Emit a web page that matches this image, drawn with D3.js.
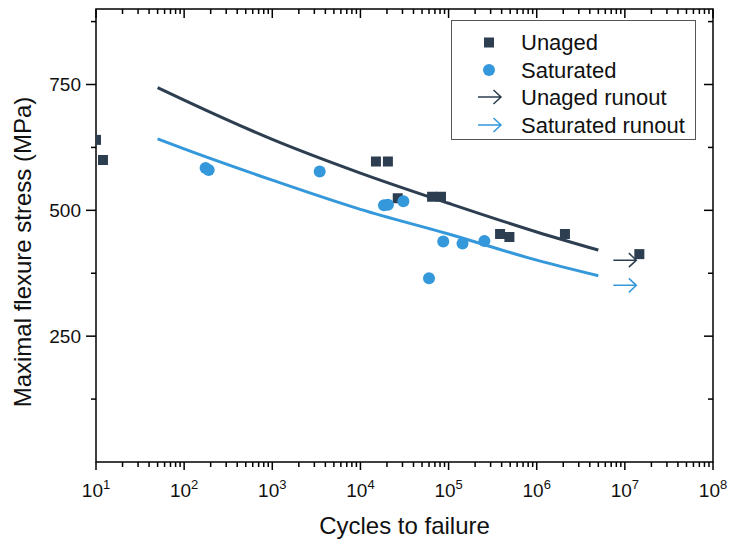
<!DOCTYPE html>
<html>
<head>
<meta charset="utf-8">
<script src="https://cdn.jsdelivr.net/npm/d3@7"></script>
<style>
  body { margin: 0; background: #fff; }
  text { font-family: "Liberation Sans", Arial, sans-serif; fill: #111; }
</style>
</head>
<body>
<script>
// data
let unagedN = [10, 12, 15000, 20500, 26500, 65000, 82000, 384000, 490000, 2090000, 14600000];
let unagedS = [640, 600, 597, 597, 524, 527, 527, 453, 447, 453, 413];

let saturatedN = [175, 190, 3450, 18500, 20500, 30700, 60000, 87000, 144000, 255000];
let saturatedS = [584, 580, 577, 510, 511, 518, 365, 438, 434, 439];

// fitted curves
let fitN = [50, 100, 1000, 10000, 100000, 1000000, 5000000];
let unagedFit = [744, 719, 641, 574, 514, 457, 421];
let saturatedFit = [642, 622, 560, 502, 453, 401, 370];

// runout points
let runoutN = [10000000, 10000000];
let runoutS = [401, 351];

let xTickExp = [1, 2, 3, 4, 5, 6, 7, 8];
let yMajor = [250, 500, 750];
let yMinor = [125, 375, 625, 875];

let dark = "#2c3e50";
let blue = "#3498db";

let width = 729, height = 546;
let margin = {top: 9, right: 16, bottom: 84, left: 96};

let x = d3.scaleLog()
          .domain([10, 1e8])
          .range([margin.left, width - margin.right]);
let y = d3.scaleLinear()
          .domain([0, 900])
          .range([height - margin.bottom, margin.top]);

let svg = d3.select("body")
            .append("svg")
            .attr("width", width)
            .attr("height", height);

svg.append("clipPath").attr("id", "clip")
   .append("rect")
   .attr("x", x.range()[0]).attr("y", y.range()[1])
   .attr("width", x.range()[1] - x.range()[0])
   .attr("height", y.range()[0] - y.range()[1]);

// minor x ticks: 2..9 per decade
let xMinor = [];
for (let e = 1; e < 8; e++) {
  for (let k = 2; k <= 9; k++) xMinor.push(k * Math.pow(10, e));
}
let xMajor = xTickExp.map(e => Math.pow(10, e));

let x0 = x.range()[0], x1 = x.range()[1], y0 = y.range()[0], y1 = y.range()[1];
let ticks = svg.append("g").attr("stroke", "#000").attr("stroke-width", 1.5);

// bottom (outward) and top (inward)
xMajor.forEach(function(v) {
  ticks.append("line").attr("x1", x(v)).attr("x2", x(v)).attr("y1", y0).attr("y2", y0 + 8);
  ticks.append("line").attr("x1", x(v)).attr("x2", x(v)).attr("y1", y1).attr("y2", y1 + 9);
});
xMinor.forEach(function(v) {
  ticks.append("line").attr("x1", x(v)).attr("x2", x(v)).attr("y1", y0).attr("y2", y0 + 5);
  ticks.append("line").attr("x1", x(v)).attr("x2", x(v)).attr("y1", y1).attr("y2", y1 + 5);
});
// left (outward) and right (inward)
yMajor.forEach(function(v) {
  ticks.append("line").attr("x1", x0 - 10).attr("x2", x0).attr("y1", y(v)).attr("y2", y(v));
  ticks.append("line").attr("x1", x1 - 9).attr("x2", x1).attr("y1", y(v)).attr("y2", y(v));
});
yMinor.forEach(function(v) {
  ticks.append("line").attr("x1", x0 - 5).attr("x2", x0).attr("y1", y(v)).attr("y2", y(v));
  ticks.append("line").attr("x1", x1 - 5).attr("x2", x1).attr("y1", y(v)).attr("y2", y(v));
});

// frame
svg.append("rect")
   .attr("x", x0).attr("y", y1)
   .attr("width", x1 - x0).attr("height", y0 - y1)
   .attr("fill", "none").attr("stroke", "#000").attr("stroke-width", 1.5);

// tick labels
svg.append("g").selectAll("text")
   .data(yMajor).join("text")
   .attr("x", x0 - 15).attr("y", d => y(d))
   .attr("dy", "0.36em")
   .attr("text-anchor", "end")
   .style("font-size", "19px")
   .text(d => d);

let xl = svg.append("g").selectAll("text")
   .data(xTickExp).join("text")
   .attr("x", d => x(Math.pow(10, d)) + 0)
   .attr("y", y0 + 35)
   .attr("text-anchor", "middle")
   .style("font-size", "19px");
xl.append("tspan").text("10");
xl.append("tspan").attr("dy", -8).style("font-size", "13px").text(d => d);

// axis titles
svg.append("text")
   .attr("x", (x0 + x1) / 2).attr("y", 534)
   .attr("text-anchor", "middle")
   .style("font-size", "24px")
   .text("Cycles to failure");
svg.append("text")
   .attr("transform", "translate(31,252) rotate(-90)")
   .attr("text-anchor", "middle")
   .style("font-size", "24px")
   .text("Maximal flexure stress (MPa)");

// fit lines
let line = d3.line()
             .x(d => x(d[0]))
             .y(d => y(d[1]))
             .curve(d3.curveMonotoneX);

svg.append("path")
   .datum(fitN.map((n, i) => [n, unagedFit[i]]))
   .attr("d", line)
   .attr("fill", "none").attr("stroke", dark).attr("stroke-width", 3);
svg.append("path")
   .datum(fitN.map((n, i) => [n, saturatedFit[i]]))
   .attr("d", line)
   .attr("fill", "none").attr("stroke", blue).attr("stroke-width", 3);

// arrow glyph, centred on (cx, cy)
function arrow(g, cx, cy, color) {
  g.append("path")
   .attr("d", `M${cx - 11.5},${cy}H${cx + 11.5}M${cx + 4},${cy - 7}L${cx + 11.5},${cy}L${cx + 4},${cy + 7}`)
   .attr("fill", "none").attr("stroke", color).attr("stroke-width", 1.5);
}

let pts = svg.append("g").attr("clip-path", "url(#clip)");
arrow(pts, x(runoutN[0]), y(runoutS[0]), dark);
arrow(pts, x(runoutN[1]), y(runoutS[1]), blue);

pts.selectAll("rect.unaged")
   .data(unagedN.map((n, i) => [n, unagedS[i]]))
   .join("rect")
   .attr("class", "unaged")
   .attr("x", d => x(d[0]) - 5).attr("y", d => y(d[1]) - 5)
   .attr("width", 10).attr("height", 10)
   .attr("fill", dark);

pts.selectAll("circle")
   .data(saturatedN.map((n, i) => [n, saturatedS[i]]))
   .join("circle")
   .attr("cx", d => x(d[0])).attr("cy", d => y(d[1]))
   .attr("r", 6)
   .attr("fill", blue);

// legend
let lg = svg.append("g");
lg.append("rect")
  .attr("x", 451.5).attr("y", 20.5).attr("width", 244).attr("height", 119)
  .attr("fill", "#fff").attr("stroke", "#555").attr("stroke-width", 1);

let legendItems = ["Unaged", "Saturated", "Unaged runout", "Saturated runout"];
let rowY = [42.5, 70, 97, 125];
lg.append("rect").attr("x", 484).attr("y", rowY[0] - 5).attr("width", 10).attr("height", 10).attr("fill", dark);
lg.append("circle").attr("cx", 489).attr("cy", rowY[1]).attr("r", 6).attr("fill", blue);
arrow(lg, 489.5, rowY[2], dark);
arrow(lg, 489.5, rowY[3], blue);
lg.selectAll("text")
  .data(legendItems).join("text")
  .attr("x", 521).attr("y", (d, i) => rowY[i])
  .attr("dy", "0.36em")
  .style("font-size", "22px")
  .text(d => d);
</script>
</body>
</html>
